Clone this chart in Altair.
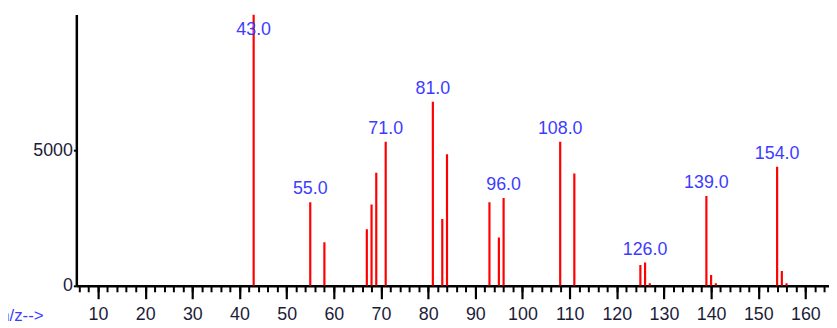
import altair as alt
import pandas as pd

# m/z values and abundances
mz = [43, 55, 58, 67, 68, 69, 71, 81, 83, 84, 93, 95, 96, 108, 111,
      125, 126, 127, 139, 140, 141, 154, 155, 156]
abundance = [10000, 3080, 1610, 2090, 3000, 4170, 5310, 6780, 2460, 4850,
             3080, 1780, 3240, 5310, 4140, 770, 860, 100, 3310, 400, 100,
             4390, 550, 100]
labeled_mz = [43, 55, 71, 81, 96, 108, 126, 139, 154]
x_major = list(range(10, 161, 10))
x_minor = list(range(6, 165, 2))
y_ticks = [0, 5000]
axis_title = ["m/z-->"]

df = pd.DataFrame({"mz": mz, "abundance": abundance})
df["labeled"] = df["mz"].isin(labeled_mz)

FONT = "Liberation Sans"
BLUE = "#3c3cff"
TXT = "#1c1c38"

xscale = alt.Scale(domain=[5.4, 165], nice=False, zero=False)
yscale = alt.Scale(domain=[0, 10000], nice=False)

base = alt.Chart(df)

bars = base.mark_rule(color="#ff0000", strokeWidth=2.2, clip=True).encode(
    x=alt.X("mz:Q", scale=xscale,
            axis=alt.Axis(values=x_major, orient="bottom", title=None,
                          grid=False, domainColor="black", domainWidth=2.5,
                          tickColor="black", tickWidth=2.2, tickSize=13,
                          labelFont=FONT, labelFontSize=18, labelColor=TXT,
                          labelPadding=7, format="d")),
    y=alt.Y("abundance:Q", scale=yscale,
            axis=alt.Axis(values=y_ticks, title=None, grid=False,
                          domainColor="black", domainWidth=2.5,
                          tickColor="black", tickWidth=2, tickSize=3,
                          labelFont=FONT, labelFontSize=18, labelColor=TXT,
                          labelPadding=1, format="d")),
    y2=alt.datum(0),
)

minor = base.mark_point(opacity=0).encode(
    x=alt.X("mz:Q", scale=xscale,
            axis=alt.Axis(values=x_minor, orient="bottom", title=None,
                          grid=False, labels=False, domain=False,
                          tickColor="black", tickWidth=2, tickSize=6)),
    y=alt.Y("abundance:Q", scale=yscale, axis=None),
)

labels = base.transform_filter("datum.labeled").transform_calculate(
    ly="min(datum.abundance, 8940)"
).mark_text(
    color=BLUE, font=FONT, fontSize=18, baseline="bottom", align="center", dy=-4
).encode(
    x=alt.X("mz:Q", scale=xscale, axis=None),
    y=alt.Y("ly:Q", scale=yscale, axis=None),
    text=alt.Text("mz:Q", format=".1f"),
)

xtitle = alt.Chart(pd.DataFrame({"t": axis_title})).mark_text(
    color=BLUE, font=FONT, fontSize=17, align="right", baseline="middle"
).encode(
    x=alt.value(-33), y=alt.value(30 + 274), text="t:N"
)

chart = alt.layer(bars, minor, labels, xtitle).resolve_axis(
    x="independent", y="independent"
).properties(
    width=760, height=274,
    autosize=alt.AutoSizeParams(type="none"),
    padding={"left": 69, "top": 5, "right": 0, "bottom": 40},
).configure(background="white").configure_view(stroke="transparent", strokeWidth=0)

chart.save("out.html", embed_options={"renderer": "svg", "actions": False})
